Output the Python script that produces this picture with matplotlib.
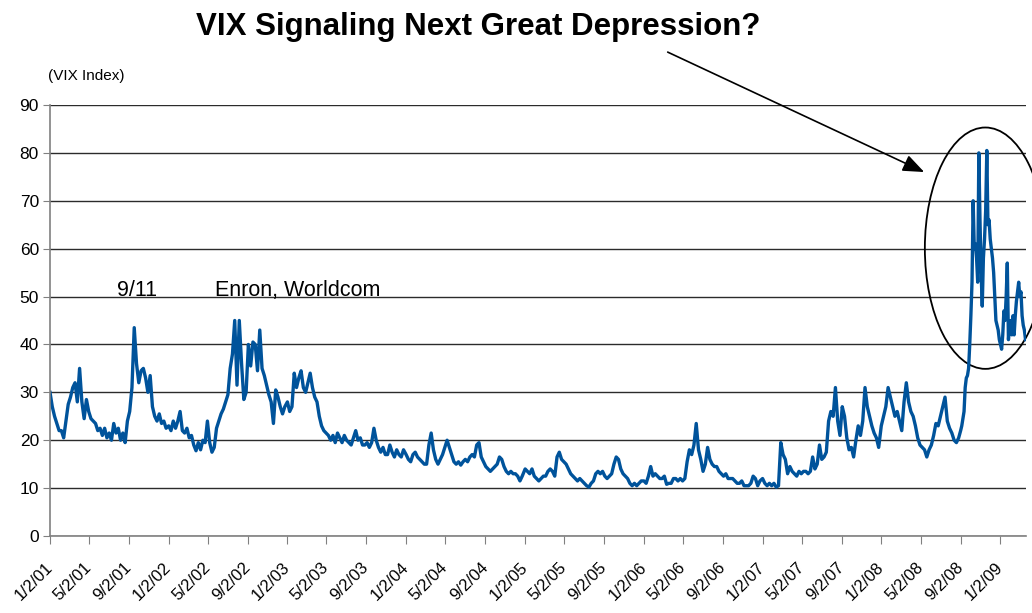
import pandas as pd
import matplotlib
matplotlib.use('Agg')
import matplotlib.pyplot as plt
import matplotlib.dates as mdates
from matplotlib.patches import Ellipse

plt.rcParams['font.family'] = ['Liberation Sans', 'DejaVu Sans']

# weekly VIX closes, one list per calendar year (first point on 2 Jan)
vix_2001 = [30, 27, 25, 23.5, 22, 22, 20.5, 24, 27.5, 29, 31, 32, 28, 35, 28, 24.5, 28.5, 26, 24.5, 24,
            23.5, 22, 22.5, 21, 22.5, 20.5, 21.5, 20, 23.5, 21.5, 22.5, 20, 21.5, 19.5, 24, 26, 31, 43.5, 36, 32,
            34.5, 35, 33, 30, 33.5, 27, 25, 24, 25.5, 23.5, 24, 22.5]
vix_2002 = [23, 22, 24, 22.5, 24, 26, 22, 21.5, 22.5, 20.5, 21, 19, 17.8, 19.5, 18, 20, 19.5, 24, 19.5, 17.5,
            18.5, 22.5, 24, 25.5, 26.5, 28, 29.5, 35, 38, 45, 31.5, 45, 36, 28.5, 30, 40, 35.5, 40.5, 40, 34.5,
            43, 35, 33.5, 31.5, 29.5, 28, 23.5, 30.5, 29, 27, 25.5, 27]
vix_2003 = [28, 26, 27, 34, 31, 33, 34.5, 31, 30, 32, 34, 31, 29, 28, 25, 23, 22, 21.5, 21, 20,
            21, 19.5, 21.5, 20.5, 19.5, 21, 20, 19.5, 19, 20.5, 22, 20, 20.5, 19, 19, 19.5, 18.5, 19.5, 22.5, 20,
            18.5, 17.5, 18.5, 17, 17, 19, 17.5, 16.5, 18, 17, 16.5, 18]
vix_2004 = [17, 16, 15.5, 17, 17.5, 16.5, 16, 15.5, 15, 15, 19, 21.5, 18, 16, 15, 16, 17, 18.5, 20, 18.5,
            17, 15.5, 15, 15.5, 14.8, 15.5, 16, 15.5, 16.5, 17, 16.5, 19, 19.5, 16.5, 15.5, 14.5, 14, 13.5, 14, 14.5,
            15, 16.5, 16, 14.5, 13.5, 13, 13.5, 13, 13, 12.5, 11.5, 12.5]
vix_2005 = [14, 13.5, 13, 14, 12.5, 12, 11.5, 12, 12.5, 12.5, 13.5, 14, 13.5, 12.5, 16.5, 17.5, 16, 15.5, 15, 14,
            13, 12.5, 12, 11.5, 12, 11.5, 11, 10.5, 10.2, 11, 11.5, 13, 13.5, 13, 13.5, 12.5, 12, 12.5, 13, 15,
            16.5, 16, 14, 13, 12.5, 12, 11, 10.5, 11, 10.5, 11, 11.5]
vix_2006 = [11.5, 11, 12.5, 14.5, 12.5, 13, 12.5, 12, 12, 12.5, 10.8, 11, 11, 12, 12, 11.5, 12, 11.5, 12, 15.5,
            18, 17, 19, 23.5, 18, 16, 13.5, 15, 18.5, 16, 15, 14.5, 14.5, 13.5, 13, 12.5, 13, 12, 12, 12,
            11.5, 11, 11, 11.5, 10.5, 10.5, 10.5, 11, 12.5, 12, 10.5, 11.5]
vix_2007 = [12, 11, 10.5, 11, 10.5, 11, 10.2, 10.5, 19.5, 17, 16, 13, 14.5, 13.5, 13, 12.5, 13.5, 13, 13.5, 13.5,
            13, 13.5, 16.5, 14, 15, 19, 16, 16.5, 17.5, 24, 26, 25, 31, 24, 21, 27, 25, 20.5, 18, 18.5,
            16.5, 20, 23, 21, 24, 31, 27, 25, 23, 21.5, 20.5, 18.5]
# 2008 up to the end of August
vix_2008 = [23, 25, 27, 31, 29, 27, 25, 26, 24, 22, 28, 32, 28, 26, 25, 23, 20.5, 19, 18.5, 18,
            16.5, 18, 19, 21, 23.5, 23, 25, 27, 29, 24, 22.5, 21.5, 20, 19.5, 20.5]
# Sep 2008 - Mar 2009, two readings a week
vix_crisis = [22, 23, 24.5, 26, 31, 33, 33.5, 35, 40, 46, 53, 70, 60, 61, 58, 53, 80, 66, 55, 48,
              58, 62, 68, 80.5, 65, 66, 62, 60, 58, 55, 50, 45, 44, 43, 41, 40, 39, 42, 47, 45,
              50, 57, 41, 44, 45, 42, 46, 42, 46, 49, 51, 53, 50, 51, 46, 44, 43, 41]

yearly = {2001: vix_2001, 2002: vix_2002, 2003: vix_2003, 2004: vix_2004,
          2005: vix_2005, 2006: vix_2006, 2007: vix_2007, 2008: vix_2008}
parts = []
for year, vals in yearly.items():
    idx = pd.date_range(f'{year}-01-02', periods=len(vals), freq='7D')
    parts.append(pd.Series(vals, index=idx))
parts.append(pd.Series(vix_crisis, index=pd.date_range('2008-09-02', periods=len(vix_crisis), freq='84h')))
vix = pd.concat(parts)

# x ticks every four months
tick_dates = [pd.Timestamp(y, m, 2) for y in range(2001, 2010) for m in (1, 5, 9)][:25]
tick_labels = [f'{d.month}/2/{d.year % 100:02d}' for d in tick_dates]

fig = plt.figure(figsize=(10.32, 6.13), dpi=100)
ax = fig.add_axes([50 / 1032, 1 - 536 / 613, (1026 - 50) / 1032, (536 - 105) / 613])

ax.plot(vix.index, vix.values, color='#00539B', lw=2.4, solid_joinstyle='round')

ax.set_xlim(pd.Timestamp('2001-01-02'), pd.Timestamp('2009-03-22'))
ax.set_ylim(0, 90)
ax.set_yticks(range(0, 91, 10))
ax.yaxis.grid(True, color='#2b2b2b', lw=1.0)
ax.set_axisbelow(True)
for side in ('top', 'right'):
    ax.spines[side].set_visible(False)
for side in ('left', 'bottom'):
    ax.spines[side].set_color('#808080')
    ax.spines[side].set_linewidth(1.2)

ax.set_xticks(tick_dates)
ax.set_xticklabels(tick_labels, rotation=45, ha='right', va='center', rotation_mode='anchor')
ax.tick_params(axis='x', direction='out', length=6, color='#808080', labelsize=12, pad=15)
ax.tick_params(axis='y', direction='out', length=5, color='#808080', labelsize=12.5, pad=3)

# event labels
ax.text(pd.Timestamp('2001-07-27'), 50.2, '9/11', fontsize=15.5, va='baseline')
ax.text(pd.Timestamp('2002-05-24'), 50.2, 'Enron, Worldcom', fontsize=15.5, va='baseline')

fig.text(0.0465, 0.8695, '(VIX Index)', fontsize=11)
fig.text(0.463, 0.943, 'VIX Signaling Next Great Depression?', ha='center', va='baseline',
         fontsize=22.5, fontweight='bold')

# circle the 2008 spike and point at it from the title
ax.add_patch(Ellipse((mdates.date2num(pd.Timestamp('2008-11-17')), 60.1), width=372, height=50.4,
                     fill=False, ec='black', lw=1.3, clip_on=False))
ax.annotate('', xy=(pd.Timestamp('2008-05-13'), 76), xytext=(0.647, 0.915), textcoords='figure fraction',
            arrowprops=dict(arrowstyle='-|>,head_length=1.0,head_width=0.4', color='black', lw=1.2,
                            mutation_scale=13, shrinkA=0, shrinkB=0),
            annotation_clip=False)

fig.savefig('out.png', dpi=100)
